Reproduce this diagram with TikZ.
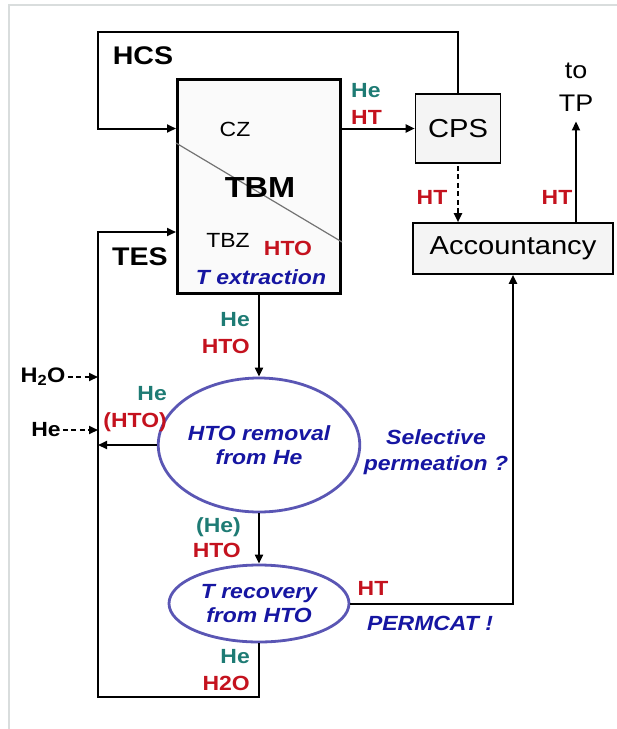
\documentclass[tikz,border=0pt]{standalone}
\usepackage{fontspec}
\setmainfont[FakeStretch=1.12]{Liberation Sans}
\usetikzlibrary{arrows.meta,shapes.geometric}
\definecolor{LoopGas}{HTML}{1E7B74}
\definecolor{LoopTrit}{HTML}{C4121E}
\definecolor{LoopNote}{HTML}{1616A2}
\definecolor{LoopRing}{HTML}{5A56B4}
\definecolor{LoopFrame}{HTML}{D9DDDD}
\definecolor{LoopFill}{HTML}{F4F4F4}

\begin{document}
\begin{tikzpicture}[
    x=1pt,y=-1pt,
    unit/.style={
      draw=black,
      fill=LoopFill,
      line width=1.6pt,
      inner sep=0pt,
      font=\fontsize{26}{30}\selectfont
    },
    blanket/.style={
      draw=black,
      fill=LoopFill!50,
      line width=3pt
    },
    process/.style={
      ellipse,
      draw=LoopRing,
      fill=white,
      line width=2.8pt,
      inner sep=0pt,
      align=center,
      text=LoopNote,
      font=\fontsize{20.5}{24}\selectfont\bfseries\itshape
    },
    stream/.style={inner sep=0pt,font=\fontsize{20.5}{27}\selectfont\bfseries},
    note/.style={inner sep=0pt,align=center,text=LoopNote,font=\fontsize{20.5}{26}\selectfont\bfseries\itshape},
    loopname/.style={inner sep=0pt,font=\fontsize{25.5}{30}\selectfont\bfseries},
    zone/.style={inner sep=0pt,font=\fontsize{20.5}{24}\selectfont},
    flow/.style={-{Triangle[length=9pt,width=8pt]},line width=2pt},
    feed/.style={flow,dashed,dash pattern=on 5pt off 3.5pt,shorten <=2pt}
  ]
    \useasboundingbox (0,0) rectangle (617,729);
    \draw[LoopFrame,line width=2.5pt] (9,729) -- (9,5) -- (617,5);

    \node[blanket,minimum width=163pt,minimum height=214pt] (tbm) at (259,186) {};
    \draw[black!55,line width=1.2pt] (tbm.west |- 0,143) -- (tbm.east |- 0,242);
    \node[zone] (cz) at (235,129) {CZ};
    \node[inner sep=0pt,font=\fontsize{29}{30}\selectfont\bfseries] (tbmname) at (260,188) {TBM};
    \node[zone] (tbz) at (228,240) {TBZ};
    \node[stream,text=LoopTrit] (htozone) at (288,248) {HTO};
    \node[note] (textr) at (261,277) {T extraction};

    \node[unit,minimum width=85pt,minimum height=69pt] (cps) at (458,128.5) {CPS};
    \node[unit,minimum width=200pt,minimum height=51pt] (acc) at (513,248.5) {Accountancy};
    \node[inner sep=0pt,align=center,font=\fontsize{24}{33}\selectfont] (tp) at (576,87) {to\\TP};

    \node[loopname] (hcs) at (143,56) {HCS};
    \node[loopname] (tes) at (140,257) {TES};

    \node[process,minimum width=184pt,minimum height=134pt] (rem) at (259,445) {HTO removal\\from He};
    \node[process,minimum width=180pt,minimum height=77pt] (rec) at (259,603.5) {T recovery\\from HTO};

    \coordinate (hcscorner) at (98,32);
    \coordinate (tescorner) at (98,697);
    \coordinate (tesin) at (98,232);

    \node[stream,font=\fontsize{21}{24}\selectfont\bfseries] (h2o) at (43,377) {H\textsubscript{2}O};
    \node[stream] (hein) at (46,430) {He};

    \node[stream,anchor=west,align=left] (tbmout) at (351,103.5) {\textcolor{LoopGas}{He}\\\textcolor{LoopTrit}{HT}};
    \node[stream,anchor=east,align=right] (tbmdown) at (250,333.5) {\textcolor{LoopGas}{He}\\\textcolor{LoopTrit}{HTO}};
    \node[stream,anchor=east,align=right] (remback) at (167,409) {\textcolor{LoopGas}{He}\\\textcolor{LoopTrit}{(HTO)}};
    \node[stream,anchor=east,align=right,font=\fontsize{20.5}{25}\selectfont\bfseries] (remdown) at (241,537.5) {\textcolor{LoopGas}{(He)}\\\textcolor{LoopTrit}{HTO}};
    \node[stream,anchor=east,align=right] (recback) at (250,670) {\textcolor{LoopGas}{He}\\\textcolor{LoopTrit}{H2O}};
    \node[stream,text=LoopTrit] (cpsht) at (432,197) {HT};
    \node[stream,text=LoopTrit] (tpht) at (557,197) {HT};
    \node[stream,text=LoopTrit] (recht) at (373,588) {HT};
    \node[note] (selperm) at (436,452) {Selective\\permeation ?};
    \node[note] (permcat) at (430,623) {PERMCAT !};

    \draw[flow] (cps.north) |- (hcscorner) |- (tbm.west |- cps.west);
    \draw[flow] (tbm.east |- cps.west) -- (cps.west);
    \draw[feed] (cps.south) -- (cps.south |- acc.north);
    \draw[flow] (acc.north -| tp.south) -- ([yshift=-10pt]tp.south);
    \foreach \a/\b in {tbm/rem,rem/rec}
      \draw[flow] (\a.south) -- (\b.north);
    \draw[flow] (rem.west) -- (rem.west -| tescorner);
    \draw[flow] (rec.south) |- (tescorner) |- (tbm.west |- tesin);
    \draw[flow] (rec.east) -| (acc.south);
    \foreach \a in {h2o,hein}
      \draw[feed] (\a.east) -- (\a.east -| tescorner);
  \end{tikzpicture}
\end{document}
